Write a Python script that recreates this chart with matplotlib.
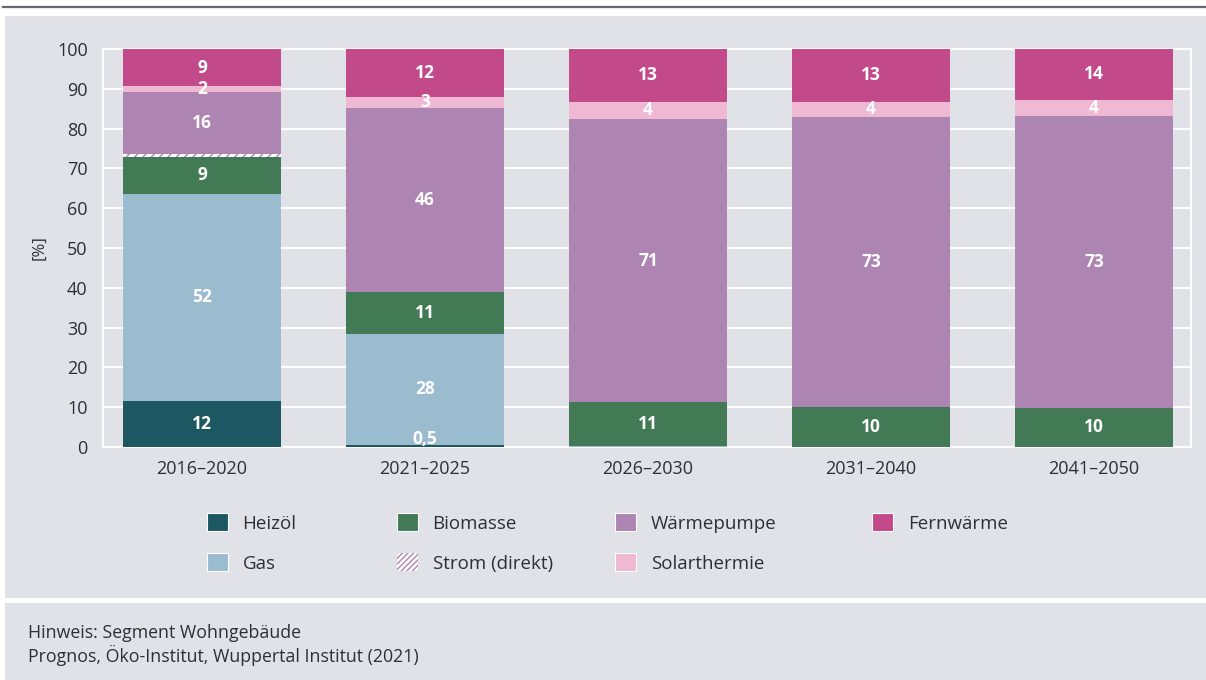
import matplotlib
matplotlib.use("Agg")
import matplotlib.pyplot as plt
from matplotlib.patches import Rectangle, Patch
from matplotlib.lines import Line2D
import numpy as np

plt.rcParams['font.family'] = ['Open Sans', 'DejaVu Sans']
plt.rcParams['hatch.color'] = '#ae84b2'
plt.rcParams['hatch.linewidth'] = 1.0

categories = ["2016–2020", "2021–2025", "2026–2030", "2031–2040", "2041–2050"]

series_names = ["Heizöl", "Gas", "Biomasse", "Strom (direkt)", "Wärmepumpe", "Solarthermie", "Fernwärme"]
heizoel      = [11.6, 0.5, 0.0, 0.0, 0.0]
gas          = [52.0, 27.9, 0.3, 0.0, 0.0]
biomasse     = [9.3, 10.5, 11.0, 10.0, 9.8]
strom        = [0.6, 0.0, 0.0, 0.0, 0.0]
waermepumpe  = [15.6, 46.3, 71.1, 73.0, 73.3]
solarthermie = [1.5, 2.8, 4.3, 3.8, 4.1]
fernwaerme   = [9.4, 12.0, 13.3, 13.2, 12.8]

labels_heizoel      = ["12", "0,5", "", "", ""]
labels_gas          = ["52", "28", "", "", ""]
labels_biomasse     = ["9", "11", "11", "10", "10"]
labels_strom        = ["", "", "", "", ""]
labels_waermepumpe  = ["16", "46", "71", "73", "73"]
labels_solarthermie = ["2", "3", "4", "4", "4"]
labels_fernwaerme   = ["9", "12", "13", "13", "14"]

colors = ["#1d5862", "#9bbbcf", "#437a56", "white", "#ae84b2", "#efb8d3", "#c34a8a"]

series = [heizoel, gas, biomasse, strom, waermepumpe, solarthermie, fernwaerme]
labels = [labels_heizoel, labels_gas, labels_biomasse, labels_strom,
          labels_waermepumpe, labels_solarthermie, labels_fernwaerme]

W, H = 1206, 680
fig = plt.figure(figsize=(W / 100, H / 100), dpi=100)
fig.patch.set_facecolor("white")

bg = "#e1e2e7"
txt = "#2f2f33"
# background panels
fig.add_artist(Rectangle((5 / W, 1 - 598 / H), 1 - 5 / W, (598 - 16) / H,
                         transform=fig.transFigure, facecolor=bg, edgecolor="none", zorder=-10))
fig.add_artist(Rectangle((5 / W, 0), 1 - 5 / W, (680 - 603) / H,
                         transform=fig.transFigure, facecolor=bg, edgecolor="none", zorder=-10))
fig.add_artist(Line2D([3 / W, 1], [1 - 7 / H, 1 - 7 / H], transform=fig.transFigure,
                      color="#5f6b73", lw=1.6))

ax = fig.add_axes([103 / W, 1 - 447 / H, (1191 - 103) / W, (447 - 49) / H])
ax.set_facecolor(bg)
for s in ax.spines.values():
    s.set_color("white")
    s.set_linewidth(1.5)

x = np.arange(len(categories))
bottom = np.zeros(len(categories))
width = 0.71
for name, vals, col, labs in zip(series_names, series, colors, labels):
    vals = np.array(vals)
    if name == "Strom (direkt)":
        ax.bar(x, vals, width, bottom=bottom, color="white", edgecolor="#ae84b2",
               hatch="////", linewidth=0, zorder=3)
    else:
        ax.bar(x, vals, width, bottom=bottom, color=col, linewidth=0, zorder=3)
    for i, (v, lab) in enumerate(zip(vals, labs)):
        if lab:
            yc = bottom[i] + v / 2
            if name == "Heizöl" and v < 2:
                yc = 2.0
            ax.text(x[i], yc, lab, ha="center", va="center", color="white",
                    fontsize=12.5, fontweight="bold", zorder=5)
    bottom += vals

ax.set_ylim(0, 100)
ax.set_xlim(-0.444, 4.435)
ax.set_yticks(np.arange(0, 101, 10))
ax.yaxis.grid(True, color="white", lw=1.5, zorder=0)
ax.set_axisbelow(True)
ax.tick_params(axis="both", length=0, labelsize=13, colors=txt)
ax.tick_params(axis="y", pad=11)
ax.tick_params(axis="x", pad=9)
ax.set_xticks(x)
ax.set_xticklabels(categories)
ax.set_ylabel("[%]", fontsize=12, color=txt, labelpad=7)

handles = []
for name, col in zip(series_names, colors):
    if name == "Strom (direkt)":
        handles.append(Patch(facecolor="white", edgecolor="#ae84b2", hatch="//////", linewidth=0))
    else:
        handles.append(Patch(facecolor=col, edgecolor="white", linewidth=0.8))

# legend entry positions (left edge of marker px, row center px)
leg_x = {"Heizöl": 207, "Gas": 207, "Biomasse": 397, "Strom (direkt)": 397,
         "Wärmepumpe": 615, "Solarthermie": 615, "Fernwärme": 872}
leg_y = {"Heizöl": 523, "Gas": 563, "Biomasse": 523, "Strom (direkt)": 563,
         "Wärmepumpe": 523, "Solarthermie": 563, "Fernwärme": 523}
for h, name in zip(handles, series_names):
    fig.legend([h], [name], loc="center left",
               bbox_to_anchor=(leg_x[name] / W, 1 - leg_y[name] / H),
               frameon=False, borderpad=0, borderaxespad=0,
               fontsize=13.5, handlelength=1.1, handleheight=1.1,
               handletextpad=0.8, labelcolor=txt)

fig.text(28 / W, 1 - 633 / H, "Hinweis: Segment Wohngebäude", fontsize=12.8,
         color=txt, va="center")
fig.text(28 / W, 1 - 655 / H, "Prognos, Öko-Institut, Wuppertal Institut (2021)",
         fontsize=12.8, color=txt, va="center")

fig.savefig("out.png", dpi=100, facecolor=fig.get_facecolor())
